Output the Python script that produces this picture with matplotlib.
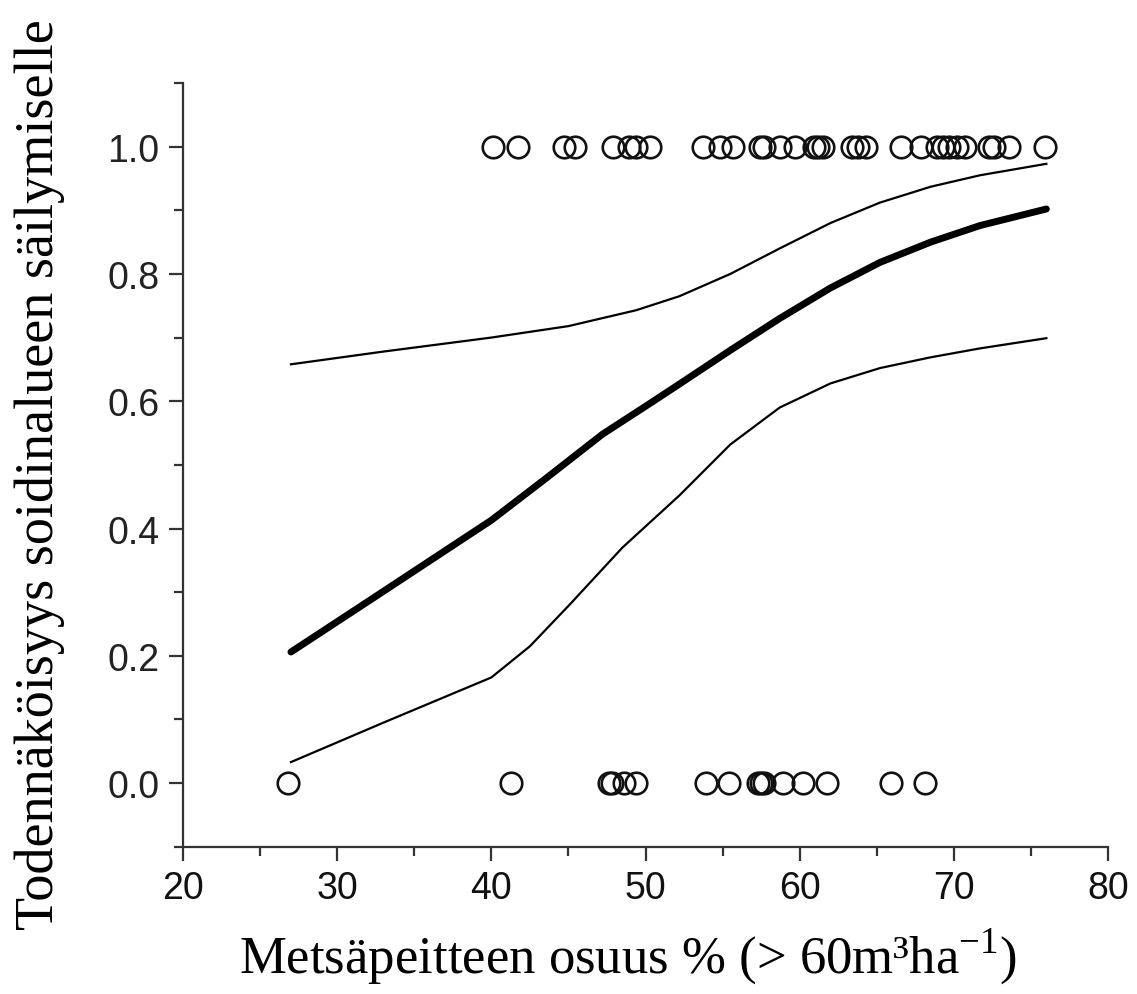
import matplotlib
matplotlib.use("Agg")
import matplotlib.pyplot as plt
from matplotlib.ticker import MultipleLocator

# observed sites: habitat kept (1) / lost (0), forest cover %
kept_x = [40.1, 41.7, 44.7, 45.4, 47.9, 48.9, 49.4, 50.3, 53.7, 54.8, 55.7,
          57.4, 57.7, 58.7, 59.7, 60.9, 61.2, 61.5, 63.4, 63.8, 64.3, 66.6,
          67.9, 68.9, 69.3, 69.7, 70.2, 70.7, 72.3, 72.6, 73.6, 75.9]
lost_x = [26.8, 41.3, 47.6, 47.8, 48.6, 49.4, 53.9, 55.4, 57.3, 57.5, 57.7,
          58.9, 60.2, 61.8, 65.9, 68.1]

# fitted probability and confidence band
fit_x = [27, 32.1, 40, 43.5, 47.2, 50, 52.2, 55.5, 58.7, 62, 65.2, 68.5, 71.7, 76]
fit_y = [0.206, 0.287, 0.413, 0.478, 0.548, 0.592, 0.627, 0.68, 0.73, 0.778, 0.818,
         0.85, 0.876, 0.902]
upper_x = [27, 33, 40, 45, 49.4, 52.2, 55.5, 58.7, 62, 65.2, 68.5, 71.7, 76]
upper_y = [0.658, 0.678, 0.70, 0.718, 0.743, 0.765, 0.80, 0.84, 0.88, 0.912,
           0.937, 0.955, 0.973]
lower_x = [27, 33, 40, 42.5, 45.1, 48.5, 52.2, 55.5, 58.7, 62, 65.2, 68.5, 71.7, 76]
lower_y = [0.033, 0.095, 0.166, 0.215, 0.281, 0.37, 0.452, 0.532, 0.59, 0.628,
           0.652, 0.669, 0.683, 0.699]

y_ticks = [0.0, 0.2, 0.4, 0.6, 0.8, 1.0]
x_ticks = [20, 30, 40, 50, 60, 70, 80]

plt.rcParams['mathtext.fontset'] = 'custom'
plt.rcParams['mathtext.rm'] = 'Liberation Serif'

fig = plt.figure(figsize=(11.37, 9.95), dpi=100)
ax = fig.add_axes([0.161, 0.148, 0.9745 - 0.161, 0.9156 - 0.148])

ax.plot(upper_x, upper_y, color='black', lw=1.6)
ax.plot(lower_x, lower_y, color='black', lw=1.6)
ax.plot(fit_x, fit_y, color='black', lw=5, solid_capstyle='round')

ax.plot(kept_x, [1.0] * len(kept_x), 'o', mfc='none', mec='#111111', ms=15.5, mew=1.9)
ax.plot(lost_x, [0.0] * len(lost_x), 'o', mfc='none', mec='#111111', ms=15.5, mew=1.9)

ax.set_xlim(20, 80)
ax.set_ylim(-0.1, 1.1)

for s in ['top', 'right']:
    ax.spines[s].set_visible(False)
for s in ['left', 'bottom']:
    ax.spines[s].set_linewidth(1.6)
    ax.spines[s].set_color('#333333')

ax.set_xticks(x_ticks)
ax.set_yticks(y_ticks)
ax.set_yticklabels([f"{v:.1f}" for v in y_ticks])
ax.xaxis.set_minor_locator(MultipleLocator(5))
ax.yaxis.set_minor_locator(MultipleLocator(0.1))
ax.tick_params(which='major', direction='out', length=10, width=1.6, color='#333333')
ax.tick_params(which='minor', direction='out', length=6.5, width=1.6, color='#333333')
ax.tick_params(axis='x', pad=7)
ax.tick_params(axis='y', pad=7)

for lab in ax.get_xticklabels():
    lab.set_family(['Liberation Sans', 'DejaVu Sans'])
    lab.set_fontsize(27)
    lab.set_color('#111111')
for lab in ax.get_yticklabels():
    lab.set_family(['Liberation Sans', 'DejaVu Sans'])
    lab.set_fontsize(27)
    lab.set_color('#222222')

fig.text(0.552, 0.038, "Metsäpeitteen osuus % (> 60m³ha$^{-1}$)",
         family=['Liberation Serif', 'DejaVu Serif'], fontsize=38,
         ha='center', va='center')
fig.text(0.035, 0.5226, "Todennäköisyys soidinalueen säilymiselle",
         family=['Liberation Serif', 'DejaVu Serif'], fontsize=39,
         rotation=90, ha='center', va='center')

fig.savefig("out.png", dpi=100)
